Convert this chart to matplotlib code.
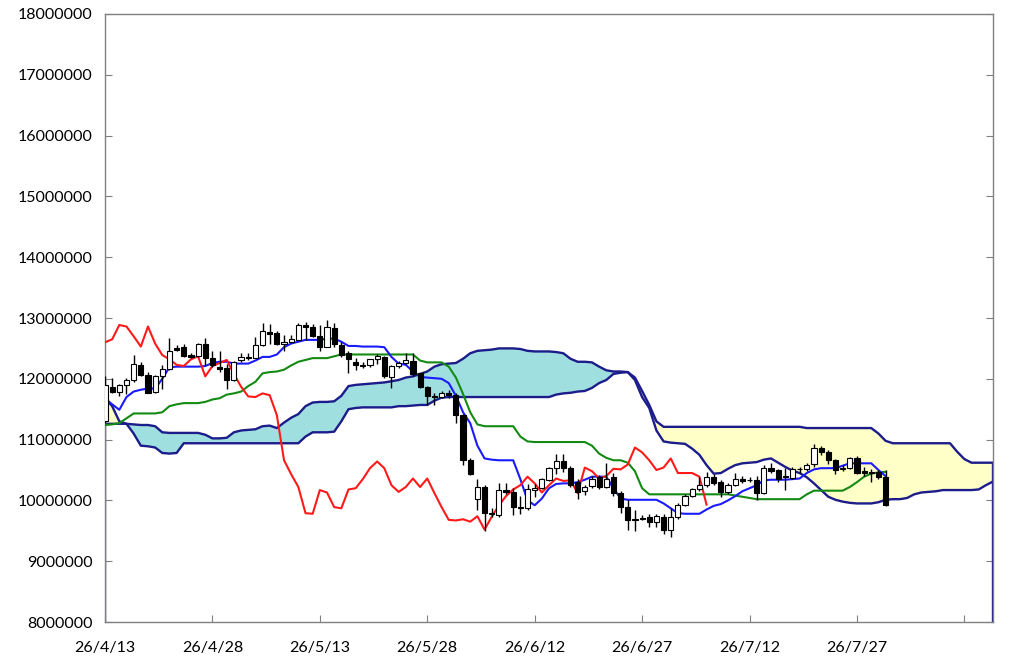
import numpy as np
import matplotlib
matplotlib.use("Agg")
import matplotlib.pyplot as plt
from matplotlib.ticker import FuncFormatter

# ---------------- data (prices in millions of yen) ----------------
tick_labels = ["26/4/13", "26/4/28", "26/5/13", "26/5/28", "26/6/12",
               "26/6/27", "26/7/12", "26/7/27", ""]

opens = [11.30, 11.86, 11.79, 11.90, 11.98, 12.23, 12.06, 11.79, 12.05, 12.16,
         12.50, 12.52, 12.39, 12.38, 12.57, 12.35, 12.20, 12.17, 11.98, 12.31,
         12.36, 12.34, 12.56, 12.77, 12.75, 12.57, 12.60, 12.64, 12.885, 12.86,
         12.71, 12.53, 12.83, 12.56, 12.42, 12.28, 12.23, 12.23, 12.32, 12.36,
         12.03, 12.21, 12.26, 12.30, 12.09, 11.86, 11.72, 11.70, 11.77, 11.73,
         11.40, 10.66, 10.02, 10.22, 9.80, 9.76, 10.17, 10.13, 9.89, 9.87,
         10.17, 10.20, 10.34, 10.53, 10.64, 10.53, 10.30, 10.15, 10.24, 10.38,
         10.22, 10.39, 10.12, 9.89, 9.69, 9.71, 9.73, 9.65, 9.73, 9.52,
         9.73, 9.92, 10.07, 10.18, 10.25, 10.39, 10.31, 10.13, 10.25, 10.35,
         10.33, 10.34, 10.12, 10.54, 10.50, 10.39, 10.37, 10.51, 10.51, 10.60,
         10.87, 10.80, 10.66, 10.51, 10.54, 10.69, 10.48, 10.47, 10.46, 10.39]
highs = [12.05, 12.01, 11.92, 12.01, 12.39, 12.28, 12.12, 12.06, 12.23, 12.67,
         12.56, 12.58, 12.42, 12.59, 12.67, 12.45, 12.45, 12.25, 12.29, 12.43,
         12.43, 12.69, 12.91, 12.90, 12.79, 12.72, 12.72, 12.91, 12.94, 12.90,
         12.88, 12.97, 12.92, 12.60, 12.45, 12.35, 12.27, 12.33, 12.40, 12.37,
         12.22, 12.29, 12.42, 12.42, 12.10, 11.88, 11.77, 11.80, 11.82, 11.76,
         11.42, 10.70, 10.36, 10.25, 9.87, 10.28, 10.28, 10.20, 10.07, 10.27,
         10.27, 10.37, 10.55, 10.77, 10.77, 10.56, 10.36, 10.25, 10.40, 10.42,
         10.61, 10.45, 10.15, 10.00, 9.85, 9.76, 9.78, 9.78, 9.78, 9.87,
         9.95, 10.10, 10.20, 10.38, 10.47, 10.43, 10.33, 10.28, 10.45, 10.40,
         10.38, 10.40, 10.58, 10.62, 10.52, 10.53, 10.55, 10.55, 10.62, 10.93,
         10.90, 10.83, 10.68, 10.58, 10.71, 10.73, 10.55, 10.52, 10.50, 10.50]
lows = [11.28, 11.76, 11.72, 11.75, 11.95, 12.04, 11.76, 11.77, 11.84, 12.15,
        12.45, 12.36, 12.34, 12.36, 12.23, 12.20, 12.12, 11.83, 11.97, 12.28,
        12.31, 12.34, 12.54, 12.58, 12.56, 12.45, 12.59, 12.64, 12.64, 12.69,
        12.46, 12.52, 12.53, 12.36, 12.10, 12.15, 12.18, 12.20, 12.25, 12.02,
        11.85, 12.18, 12.24, 12.05, 11.85, 11.57, 11.57, 11.68, 11.68, 11.28,
        10.58, 10.42, 9.84, 9.49, 9.73, 9.73, 10.10, 9.76, 9.77, 9.84,
        10.05, 10.18, 10.32, 10.44, 10.47, 10.22, 10.03, 10.09, 10.20, 10.18,
        10.20, 10.08, 9.80, 9.51, 9.49, 9.67, 9.57, 9.56, 9.45, 9.40,
        9.70, 9.90, 10.05, 10.15, 10.22, 10.25, 10.05, 10.10, 10.23, 10.28,
        10.30, 10.00, 10.10, 10.45, 10.30, 10.17, 10.35, 10.45, 10.49, 10.55,
        10.75, 10.60, 10.44, 10.48, 10.52, 10.43, 10.40, 10.30, 10.35, 9.90]
closes = [11.90, 11.79, 11.90, 11.98, 12.25, 12.06, 11.77, 12.05, 12.16, 12.46,
          12.47, 12.38, 12.36, 12.57, 12.35, 12.23, 12.16, 11.98, 12.28, 12.36,
          12.34, 12.56, 12.78, 12.74, 12.57, 12.60, 12.65, 12.885, 12.86, 12.70,
          12.53, 12.86, 12.58, 12.39, 12.32, 12.23, 12.21, 12.32, 12.37, 12.04,
          12.21, 12.26, 12.31, 12.08, 11.87, 11.71, 11.70, 11.76, 11.73, 11.40,
          10.66, 10.43, 10.22, 9.79, 9.78, 10.17, 10.13, 9.89, 9.87, 10.18,
          10.20, 10.35, 10.53, 10.64, 10.53, 10.25, 10.14, 10.22, 10.36, 10.22,
          10.36, 10.12, 9.89, 9.68, 9.67, 9.69, 9.65, 9.74, 9.52, 9.73,
          9.92, 10.07, 10.18, 10.25, 10.39, 10.28, 10.13, 10.25, 10.36, 10.32,
          10.33, 10.12, 10.54, 10.48, 10.36, 10.40, 10.52, 10.51, 10.59, 10.87,
          10.79, 10.66, 10.50, 10.54, 10.69, 10.45, 10.45, 10.45, 10.39, 9.93]

tenkan = [11.68, 11.58, 11.49, 11.70, 11.79, 11.82, 11.84, 11.84, 12.00, 12.19,
          12.20, 12.20, 12.20, 12.20, 12.21, 12.26, 12.28, 12.28, 12.25, 12.25,
          12.25, 12.30, 12.36, 12.36, 12.40, 12.52, 12.58, 12.61, 12.64, 12.64,
          12.64, 12.66, 12.66, 12.61, 12.54, 12.54, 12.53, 12.53, 12.53, 12.52,
          12.36, 12.25, 12.23, 12.12, 12.03, 12.02, 12.01, 12.00, 11.93, 11.72,
          11.45, 11.27, 10.90, 10.69, 10.67, 10.66, 10.66, 10.66, 10.35, 10.00,
          9.92, 10.03, 10.20, 10.27, 10.28, 10.28, 10.30, 10.34, 10.39, 10.39,
          10.39, 10.20, 10.03, 10.01, 10.01, 10.01, 10.01, 10.01, 9.95, 9.87,
          9.79, 9.78, 9.78, 9.78, 9.85, 9.91, 9.94, 10.00, 10.07, 10.15,
          10.20, 10.25, 10.33, 10.34, 10.34, 10.34, 10.35, 10.36, 10.45, 10.51,
          10.53, 10.53, 10.53, 10.57, 10.61, 10.61, 10.61, 10.61, 10.50, 10.40]

kijun = [11.24, 11.25, 11.27, 11.35, 11.43, 11.43, 11.43, 11.43, 11.45, 11.55,
         11.58, 11.60, 11.60, 11.60, 11.62, 11.66, 11.68, 11.74, 11.76, 11.79,
         11.88, 11.95, 12.09, 12.11, 12.12, 12.15, 12.22, 12.28, 12.31, 12.34,
         12.34, 12.34, 12.37, 12.40, 12.40, 12.40, 12.40, 12.40, 12.40, 12.40,
         12.40, 12.40, 12.40, 12.40, 12.30, 12.27, 12.27, 12.27, 12.20, 12.02,
         11.75, 11.45, 11.25, 11.22, 11.22, 11.22, 11.22, 11.22, 11.05, 10.97,
         10.96, 10.96, 10.96, 10.96, 10.96, 10.96, 10.96, 10.96, 10.90, 10.77,
         10.70, 10.66, 10.66, 10.62, 10.48, 10.20, 10.10, 10.10, 10.10, 10.10,
         10.10, 10.10, 10.10, 10.10, 10.10, 10.10, 10.10, 10.10, 10.08, 10.06,
         10.04, 10.02, 10.02, 10.02, 10.02, 10.02, 10.02, 10.02, 10.10, 10.16,
         10.16, 10.16, 10.16, 10.16, 10.22, 10.30, 10.39, 10.44, 10.46, 10.47]

senkou_a = [11.26, 11.26, 11.26, 11.26, 11.25, 11.24, 11.24, 11.22, 11.12, 11.11,
            11.11, 11.11, 11.11, 11.11, 11.08, 11.02, 11.02, 11.03, 11.12, 11.15,
            11.16, 11.17, 11.22, 11.23, 11.19, 11.28, 11.36, 11.42, 11.55, 11.61,
            11.62, 11.62, 11.63, 11.72, 11.88, 11.90, 11.91, 11.92, 11.93, 11.94,
            11.96, 11.98, 12.02, 12.04, 12.08, 12.12, 12.20, 12.24, 12.25, 12.26,
            12.33, 12.42, 12.46, 12.47, 12.48, 12.50, 12.50, 12.50, 12.49, 12.46,
            12.45, 12.45, 12.45, 12.44, 12.42, 12.33, 12.28, 12.28, 12.27, 12.20,
            12.14, 12.12, 12.12, 12.11, 11.98, 11.70, 11.52, 11.15, 10.97, 10.95,
            10.94, 10.93, 10.85, 10.75, 10.58, 10.44, 10.45, 10.52, 10.58, 10.61,
            10.62, 10.63, 10.67, 10.69, 10.62, 10.55, 10.49, 10.45, 10.38, 10.28,
            10.17, 10.06, 10.01, 9.98, 9.96, 9.95, 9.95, 9.95, 9.97, 10.01,
            10.02, 10.02, 10.04, 10.10, 10.13, 10.14, 10.15, 10.17, 10.17, 10.17,
            10.17, 10.17, 10.18, 10.25, 10.31]

senkou_b = [11.68, 11.55, 11.30, 11.26, 11.10, 10.90, 10.89, 10.87, 10.78, 10.77,
            10.78, 10.94, 10.94, 10.94, 10.94, 10.94, 10.94, 10.94, 10.94, 10.94,
            10.94, 10.94, 10.94, 10.94, 10.94, 10.94, 10.94, 10.94, 11.05, 11.12,
            11.12, 11.12, 11.13, 11.30, 11.50, 11.52, 11.53, 11.53, 11.53, 11.53,
            11.53, 11.55, 11.55, 11.56, 11.57, 11.57, 11.64, 11.69, 11.70, 11.70,
            11.70, 11.70, 11.70, 11.70, 11.70, 11.70, 11.70, 11.70, 11.70, 11.70,
            11.70, 11.70, 11.70, 11.74, 11.76, 11.77, 11.79, 11.80, 11.85, 11.93,
            11.98, 12.08, 12.10, 12.11, 12.02, 11.80, 11.57, 11.30, 11.21, 11.21,
            11.21, 11.21, 11.21, 11.21, 11.21, 11.21, 11.21, 11.21, 11.21, 11.21,
            11.21, 11.21, 11.21, 11.21, 11.21, 11.21, 11.21, 11.21, 11.19, 11.19,
            11.19, 11.19, 11.19, 11.19, 11.19, 11.19, 11.19, 11.19, 11.10, 10.98,
            10.94, 10.94, 10.94, 10.94, 10.94, 10.94, 10.94, 10.94, 10.94, 10.80,
            10.68, 10.62, 10.62, 10.62, 10.62]

CHIKOU_LAG = 25
SCALE = 1e6

# ---------------- styling ----------------
NAVY = "#1c1c8a"
CYAN = "#a0dfe0"
YELLOW = "#ffffc8"
BLUE = "#1a1aff"
GREEN = "#138a13"
RED = "#ff1a1a"
AXC = "#808080"
FONT = ["Lato", "DejaVu Sans"]

plt.rcParams["font.family"] = FONT

fig = plt.figure(figsize=(10.24, 6.61), dpi=100)
fig.patch.set_facecolor("white")
ax = fig.add_axes([105 / 1024, 39 / 661, 888 / 1024, 608 / 661])

o = np.array(opens) * SCALE
h = np.array(highs) * SCALE
l = np.array(lows) * SCALE
c = np.array(closes) * SCALE
xc = np.arange(len(o))

sa = np.array(senkou_a) * SCALE
sb = np.array(senkou_b) * SCALE
xs = np.arange(len(sa))

# cloud
ax.fill_between(xs, sa, sb, where=sa >= sb, interpolate=True,
                facecolor=CYAN, edgecolor="none", zorder=1)
ax.fill_between(xs, sa, sb, where=sb > sa, interpolate=True,
                facecolor=YELLOW, edgecolor="none", zorder=1)
ax.plot(xs, sa, color=NAVY, lw=1.7, zorder=2, solid_joinstyle="round")
ax.plot(xs, sb, color=NAVY, lw=1.7, zorder=2, solid_joinstyle="round")
# series edges falling to the axis floor
ax.vlines([xs[0]], 0, sa[0], color=NAVY, lw=1.7, zorder=2)
ax.vlines([xs[-1]], 0, sb[-1], color=NAVY, lw=1.7, zorder=2)

# lines
ax.plot(xc, np.array(kijun) * SCALE, color=GREEN, lw=1.5, zorder=3)
ax.plot(xc, np.array(tenkan) * SCALE, color=BLUE, lw=1.5, zorder=3)
ax.plot(xc[CHIKOU_LAG:] - CHIKOU_LAG, c[CHIKOU_LAG:], color=RED, lw=1.5, zorder=3)

# candles
up = c >= o
body_lo = np.minimum(o, c)
body_h = np.maximum(np.abs(c - o), 0.012 * SCALE)
ax.vlines(xc, l, h, color="black", lw=1.0, zorder=4)
ax.bar(xc, body_h, bottom=body_lo, width=0.72,
       color=np.where(up, "white", "black"), edgecolor="black",
       linewidth=0.8, zorder=5)

# axes
ax.set_xlim(0, len(sa) - 1)
ax.set_ylim(8 * SCALE, 18 * SCALE)
ax.set_yticks(np.arange(8, 19) * SCALE)
ax.yaxis.set_major_formatter(FuncFormatter(lambda v, p: "%d" % round(v)))
ax.set_xticks(np.arange(len(tick_labels)) * 15)
ax.set_xticklabels(tick_labels)

for s in ax.spines.values():
    s.set_color(AXC)
    s.set_linewidth(1.0)
ax.tick_params(axis="y", direction="in", length=5, color=AXC, right=True,
               labelsize=11.5, pad=9, labelcolor="black")
ax.tick_params(axis="x", direction="in", length=5, color=AXC,
               labelsize=11.5, pad=14, labelcolor="black")

fig.savefig("out.png", dpi=100, facecolor="white")
